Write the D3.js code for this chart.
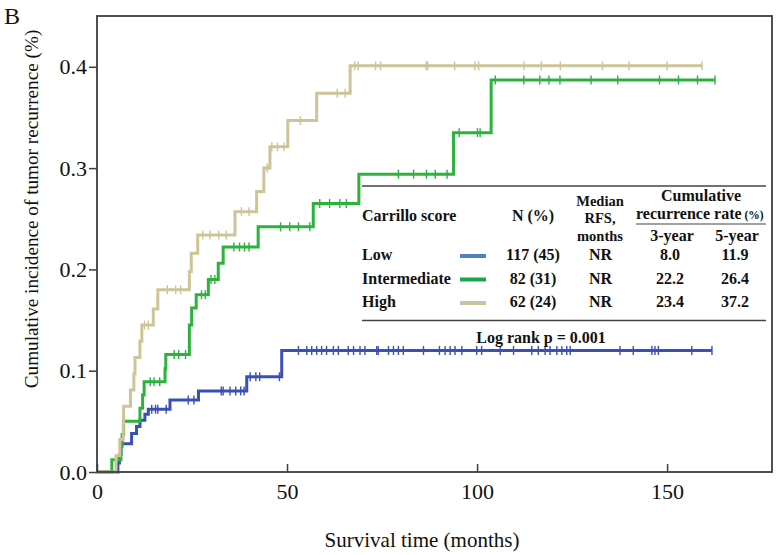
<!DOCTYPE html>
<html>
<head>
<meta charset="utf-8">
<script src="https://cdn.jsdelivr.net/npm/d3@7"></script>
<style>
  html, body { margin: 0; padding: 0; background: #fff; }
  svg { display: block; font-family: "Liberation Serif", "Times New Roman", serif; }
</style>
</head>
<body>
<svg id="chart" width="780" height="555"></svg>
<script>
// ---------- DATA ----------
const groups = ["Low", "Intermediate", "High"];

// step times (months) and cumulative incidence after each step
const lowTimes   = [5.5, 5.9, 6.3, 9.1, 10.4, 11.3, 12.6, 13.5, 19.2, 26.7, 39.4, 48.6];
const lowValues  = [0.009, 0.017, 0.028, 0.038, 0.045, 0.051, 0.057, 0.062, 0.071, 0.080, 0.094, 0.120];
const lowEnd = 161.8;
const lowCensor = [14.4, 15.4, 16.0, 18.2, 24.0, 25.5, 32.7, 33.2, 35.0, 36.5, 37.8, 38.7,
  40.3, 41.8, 42.8, 48.0, 53.0, 55.2, 56.5, 57.8, 59.1, 60.4, 62.2, 63.5, 66.1, 67.5, 69.2,
  70.5, 73.6, 74.0, 76.7, 78.0, 79.3, 80.6, 85.9, 90.1, 91.6, 92.9, 94.2, 96.0, 99.9, 101.2,
  106.1, 109.6, 114.4, 116.1, 117.9, 119.2, 121.0, 122.3, 123.6, 124.5, 137.6, 141.1, 146.0,
  146.8, 147.7, 156.5, 161.8];

const intTimes  = [3.9, 6.3, 6.6, 7.0, 11.3, 12.0, 12.4, 17.9, 18.1, 24.3, 24.9, 26.1, 29.3, 31.9, 33.2, 42.4, 56.9, 68.9, 93.8, 103.7];
const intValues = [0.012, 0.025, 0.037, 0.050, 0.063, 0.076, 0.089, 0.102, 0.116, 0.145, 0.162, 0.175, 0.190, 0.206, 0.222, 0.242, 0.265, 0.294, 0.335, 0.387];
const intEnd = 162.6;
const intCensor = [14.0, 15.0, 16.5, 20.3, 21.5, 23.3, 27.5, 28.5, 30.0, 31.0, 36.0, 37.5, 38.8,
  40.0, 48.3, 50.7, 53.0, 56.0, 58.6, 61.2, 63.9, 65.6, 79.3, 83.3, 86.7, 89.0, 92.1, 95.3,
  100.1, 100.8, 104.8, 112.3, 116.5, 118.9, 121.8, 130.0, 137.0, 148.0, 153.0, 158.0, 162.6];

const highTimes  = [5.0, 6.0, 6.9, 7.0, 8.8, 9.7, 10.0, 11.3, 11.8, 14.8, 16.0, 24.3, 24.8, 26.5, 36.3, 42.0, 43.9, 45.5, 50.2, 57.8, 66.6];
const highValues = [0.016, 0.032, 0.048, 0.065, 0.081, 0.097, 0.113, 0.129, 0.145, 0.161, 0.180, 0.198, 0.216, 0.234, 0.257, 0.277, 0.300, 0.321, 0.347, 0.374, 0.401];
const highEnd = 159.2;
const highCensor = [12.5, 13.5, 18.5, 20.7, 22.0, 27.8, 29.7, 32.0, 34.0, 38.0, 40.0, 44.8, 46.0,
  47.5, 49.2, 53.5, 63.2, 65.3, 67.8, 68.7, 73.3, 74.6, 86.6, 87.0, 94.1, 99.4, 100.4, 112.3,
  116.9, 121.9, 133.0, 140.0, 150.0, 159.2];

const xTicks = [0, 50, 100, 150];
const yTicks = [0.0, 0.1, 0.2, 0.3, 0.4];

// table content
const tableN      = ["117 (45)", "82 (31)", "62 (24)"];
const tableMedian = ["NR", "NR", "NR"];
const table3yr    = ["8.0", "22.2", "23.4"];
const table5yr    = ["11.9", "26.4", "37.2"];
const pValueText  = "Log rank p = 0.001";

// ---------- STYLE ----------
const lineColors   = ["#3b50b4", "#2cb23d", "#cdc497"];
const legendColors = ["#4f81bd", "#16a94c", "#c9c39f"];

const svg = d3.select("#chart");
const W = 780, H = 555;
const x = d3.scaleLinear().domain([0, 177.6]).range([97, 772]);
const y = d3.scaleLinear().domain([0, 0.45]).range([472, 16.15]);

// panel letter
svg.append("text").attr("x", 4).attr("y", 24).attr("font-size", 24).attr("fill", "#111").text("B");

// curves
const series = [
  { times: lowTimes, values: lowValues, end: lowEnd, censor: lowCensor },
  { times: intTimes, values: intValues, end: intEnd, censor: intCensor },
  { times: highTimes, values: highValues, end: highEnd, censor: highCensor }
];

const line = d3.line().x(d => x(d[0])).y(d => y(d[1])).curve(d3.curveStepAfter);

function valueAt(s, t) {
  let v = 0;
  for (let i = 0; i < s.times.length; i++) if (s.times[i] <= t) v = s.values[i];
  return v;
}

series.forEach((s, i) => {
  const pts = [[0, 0]];
  s.times.forEach((t, k) => pts.push([t, s.values[k]]));
  pts.push([s.end, s.values[s.values.length - 1]]);
  const g = svg.append("g");
  g.append("path").datum(pts).attr("d", line)
    .attr("fill", "none").attr("stroke", lineColors[i]).attr("stroke-width", 3)
    .attr("stroke-linejoin", "miter");
  g.selectAll("line.c").data(s.censor).join("line")
    .attr("x1", d => x(d)).attr("x2", d => x(d))
    .attr("y1", d => y(valueAt(s, d)) - 4.5).attr("y2", d => y(valueAt(s, d)) + 4.5)
    .attr("stroke", lineColors[i]).attr("stroke-width", 1.4);
});

// frame
svg.append("rect").attr("x", 97).attr("y", 16).attr("width", 675).attr("height", 456)
  .attr("fill", "none").attr("stroke", "#3d3d3d").attr("stroke-width", 1.8);

// axes
const yAxis = svg.append("g").attr("transform", "translate(97,0)")
  .call(d3.axisLeft(y).tickValues(yTicks).tickFormat(d3.format(".1f")).tickSize(8).tickPadding(2));
yAxis.select(".domain").remove();
yAxis.selectAll("line").attr("stroke", "#3d3d3d").attr("stroke-width", 1.5);
yAxis.selectAll("text").attr("font-size", 22).attr("font-family", "Liberation Serif, serif").attr("fill", "#111");

const xAxis = svg.append("g").attr("transform", "translate(0,472)")
  .call(d3.axisBottom(x).tickValues(xTicks).tickFormat(d3.format("d")).tickSize(-8).tickPadding(11));
xAxis.select(".domain").remove();
xAxis.selectAll("line").attr("stroke", "#3d3d3d").attr("stroke-width", 1.5);
xAxis.selectAll("text").attr("font-size", 22).attr("font-family", "Liberation Serif, serif").attr("fill", "#111");

// axis titles
svg.append("text").attr("x", 422).attr("y", 547).attr("text-anchor", "middle")
  .attr("font-size", 21).attr("fill", "#111").text("Survival time (months)");
svg.append("text").attr("transform", "translate(38,209) rotate(-90)").attr("text-anchor", "middle")
  .attr("font-size", 19.2).attr("fill", "#111").text("Cumulative incidence of tumor recurrence (%)");

// ---------- TABLE ----------
const tb = svg.append("g").attr("font-weight", "bold").attr("fill", "#111");
tb.append("line").attr("x1", 362).attr("x2", 766).attr("y1", 186).attr("y2", 186)
  .attr("stroke", "#444").attr("stroke-width", 1.3);
tb.append("line").attr("x1", 362).attr("x2", 766).attr("y1", 320.5).attr("y2", 320.5)
  .attr("stroke", "#444").attr("stroke-width", 1.3);
tb.append("line").attr("x1", 636).attr("x2", 766).attr("y1", 224).attr("y2", 224)
  .attr("stroke", "#444").attr("stroke-width", 1.1);

function t(xp, yp, txt, size, anchor) {
  return tb.append("text").attr("x", xp).attr("y", yp).attr("font-size", size)
    .attr("text-anchor", anchor || "middle").text(txt);
}
t(362, 221, "Carrillo score", 16, "start");
t(533, 221, "N (%)", 16);
t(600, 206, "Median", 14.5);
t(600, 223, "RFS,", 14.5);
t(600, 241, "months", 14.5);
t(701, 201, "Cumulative", 16);
const rr = t(636, 219, "recurrence rate", 16, "start");
rr.append("tspan").attr("font-size", 11.5).text(" (%)");
t(672, 241, "3-year", 16);
t(737, 241, "5-year", 16);

const rowY = [260, 283.5, 307];
groups.forEach((g, i) => {
  t(362, rowY[i], g, 16, "start");
  tb.append("line").attr("x1", 460).attr("x2", 486).attr("y1", rowY[i] - 4).attr("y2", rowY[i] - 4)
    .attr("stroke", legendColors[i]).attr("stroke-width", 4);
  t(533, rowY[i], tableN[i], 16);
  t(600.5, rowY[i], tableMedian[i], 16);
  t(670, rowY[i], table3yr[i], 16);
  t(735, rowY[i], table5yr[i], 16);
});
t(541, 343, pValueText, 16);
</script>
</body>
</html>
